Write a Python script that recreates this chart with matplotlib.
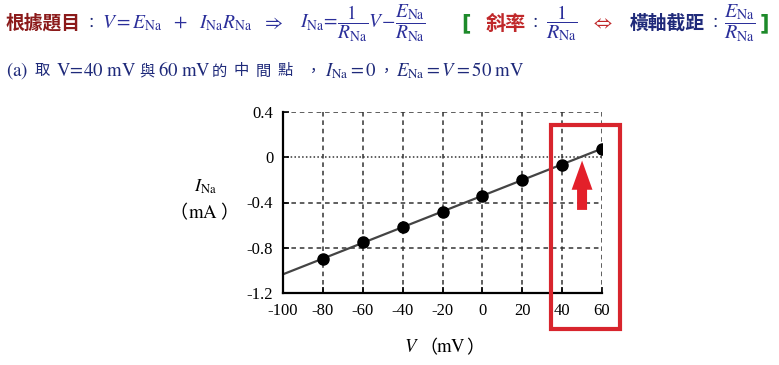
import numpy as np
import matplotlib
matplotlib.use('Agg')
import matplotlib.pyplot as plt
from matplotlib.patches import Rectangle

plt.rcParams['mathtext.fontset'] = 'stix'
plt.rcParams['font.family'] = ['Liberation Serif', 'Noto Sans CJK TC']

# data
volt = [-80, -60, -40, -20, 0, 20, 40, 60]
current = [-0.90, -0.75, -0.62, -0.48, -0.34, -0.20, -0.065, 0.077]
xticks = [-100, -80, -60, -40, -20, 0, 20, 40, 60]
yticks = [0.4, 0, -0.4, -0.8, -1.2]
ytick_labels = ['0.4', '0', '-0.4', '-0.8', '-1.2']

W, H = 779, 365
fig = plt.figure(figsize=(W / 100, H / 100), dpi=100)

def px(x, y):
    return x / W, 1 - y / H

ax = fig.add_axes([283 / W, 1 - 293 / H, 319 / W, 181 / H])
ax.set_xlim(-100, 60)
ax.set_ylim(-1.2, 0.4)

# grid lines
for v in xticks[1:]:
    ax.axvline(v, color='#333333', lw=1.1, ls=(0, (3, 2.5)), zorder=1)
for y in [0.4, -0.4, -0.8]:
    ax.axhline(y, color='#333333', lw=1.1, ls=(0, (3, 2.5)), zorder=1)
ax.axhline(0, color='#333333', lw=1.1, ls=(0, (1, 1.5)), zorder=1)

# fitted line
k, b = np.polyfit(volt, current, 1)
xs = np.array([-100, 60])
ax.plot(xs, k * xs + b, color='#444444', lw=1.6, zorder=2)
ax.plot(volt, current, 'o', color='black', ms=8, zorder=3)

for s in ['top', 'right']:
    ax.spines[s].set_visible(False)
for s in ['left', 'bottom']:
    ax.spines[s].set_linewidth(1.6)

ax.set_xticks(xticks)
ax.set_xticklabels([str(v) for v in xticks])
ax.set_yticks(yticks)
ax.set_yticklabels(ytick_labels)
ax.tick_params(direction='in', length=4, width=1.2, labelsize=12, pad=7)

# highlight box and arrow
ax.add_patch(Rectangle((34.4, -1.516), 34.6, 1.8, fill=False,
                       edgecolor='#d8252d', lw=3, clip_on=False, zorder=5))
ax.annotate('', xy=(50, -0.005), xytext=(50, -0.49),
            arrowprops=dict(arrowstyle='simple,head_width=1.5,head_length=2.1,tail_width=0.72',
                            color='#e3202a', mutation_scale=10, lw=0), zorder=6)

# axis labels
cjk = 'Noto Sans CJK TC'
fig.text(*px(205, 187), r'$I_{\mathrm{Na}}$', fontsize=13, ha='center', va='center')
fig.text(*px(187, 213), '（', fontsize=13, ha='right', va='center', family=cjk)
fig.text(*px(203, 213), r'$\mathrm{mA}$', fontsize=13.5, ha='center', va='center')
fig.text(*px(220, 213), '）', fontsize=13, ha='left', va='center', family=cjk)
fig.text(*px(419, 348), r'$V$', fontsize=13.5, ha='right', va='center')
fig.text(*px(437, 348), '（', fontsize=13, ha='right', va='center', family=cjk)
fig.text(*px(451, 348), r'$\mathrm{mV}$', fontsize=13.5, ha='center', va='center')
fig.text(*px(466, 348), '）', fontsize=13, ha='left', va='center', family=cjk)

# header line 1
brown = '#8b1a1a'
navy = '#2b2f9a'
dnavy = '#1f2a7a'
green = '#1d8a2a'
red = '#c0282a'
y1 = 23
fig.text(*px(6, y1), '根據題目', fontsize=13.5, weight='bold', color=brown, family=cjk, va='center')
fig.text(*px(91, y1), '：', fontsize=11, color=dnavy, family=cjk, ha='center', va='center')
fig.text(*px(102, y1), r'$V = E_{\mathrm{Na}}\ \ +\ \ I_{\mathrm{Na}}R_{\mathrm{Na}}$',
         fontsize=14, color=navy, va='center')
fig.text(*px(262, y1), r'$\Rightarrow$', fontsize=14, color=navy, va='center')
fig.text(*px(300, y1),
         r'$I_{\mathrm{Na}}\!=\!\dfrac{1}{R_{\mathrm{Na}}}V\!-\!\dfrac{E_{\mathrm{Na}}}{R_{\mathrm{Na}}}$',
         fontsize=14, color=navy, va='center')
fig.text(*px(461, y1), '[', fontsize=15, weight='bold', color=green, family='DejaVu Sans', va='center')
fig.text(*px(486, y1), '斜率', fontsize=14.5, weight='bold', color=red, family=cjk, va='center')
fig.text(*px(535, y1), '：', fontsize=11, color=dnavy, family=cjk, ha='center', va='center')
fig.text(*px(546, y1), r'$\dfrac{1}{R_{\mathrm{Na}}}$', fontsize=14.5, color=navy, va='center')
fig.text(*px(591, y1), r'$\Leftrightarrow$', fontsize=14, color=red, va='center')
fig.text(*px(630, y1), '橫軸截距', fontsize=13.5, weight='bold', color=dnavy, family=cjk, va='center')
fig.text(*px(715, y1), '：', fontsize=11, color=dnavy, family=cjk, ha='center', va='center')
fig.text(*px(724, y1), r'$\dfrac{E_{\mathrm{Na}}}{R_{\mathrm{Na}}}$', fontsize=14.5, color=navy, va='center')
fig.text(*px(760, y1), ']', fontsize=15, weight='bold', color=green, family='DejaVu Sans', va='center')

# header line 2, placed piece by piece
y2 = 71
line2 = [
    (6, r'$\mathrm{(a)}$', 'lat'),
    (35, '取', 'cjk'),
    (56, r'$\mathrm{V}\!=\!\mathrm{40\ mV}$', 'lat'),
    (139, '與', 'cjk'),
    (158, r'$\mathrm{60\ mV}$', 'lat'),
    (212, '的', 'cjk'),
    (234, '中', 'cjk'),
    (256, '間', 'cjk'),
    (278, '點', 'cjk'),
    (306, '，', 'cjk'),
    (325, r'$I_{\mathrm{Na}}=0$', 'lat'),
    (379, '，', 'cjk'),
    (396, r'$E_{\mathrm{Na}}=V=\mathrm{50\ mV}$', 'lat'),
]
for x, s, kind in line2:
    if kind == 'cjk':
        fig.text(*px(x, y2), s, fontsize=11, color=dnavy, family=cjk, va='center')
    else:
        fig.text(*px(x, y2), s, fontsize=13.5, color=dnavy, va='center')

fig.savefig('out.png', dpi=100)
